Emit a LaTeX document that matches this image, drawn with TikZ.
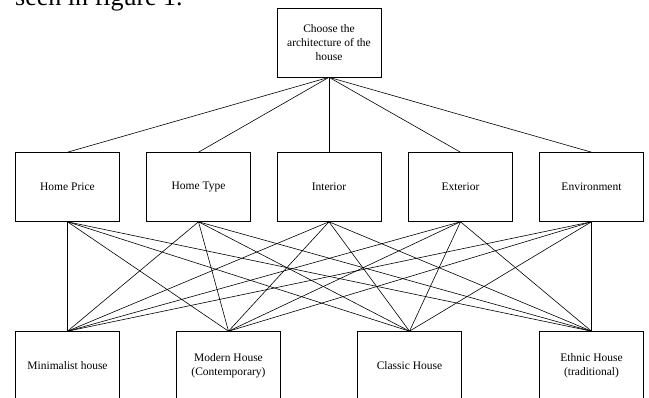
\documentclass[tikz,border=0pt]{standalone}
\usepackage{fontspec}
\setmainfont{Liberation Serif}
\begin{document}
\begin{tikzpicture}[x=1pt,y=-1pt,
  box/.style={draw, line width=0.6pt, minimum width=104pt, minimum height=69pt,
    inner sep=2pt, align=center, font=\fontsize{11.5}{14}\selectfont},
  link/.style={line width=0.6pt}]
\useasboundingbox (0,0) rectangle (649,398);
\clip (0,0) rectangle (649,398);
\node[anchor=base west, font=\fontsize{26}{30}\selectfont, inner sep=0pt] (cap) at (15,6) {seen in figure 1.};
\node[box] (top) at (329,42.5) {Choose the\\architecture of the\\house};
\node[box] (m1) at (67.5,187) {Home Price};
\node[box] (m2) at (198.5,187) {Home Type};
\node[box] (m3) at (329,187) {Interior};
\node[box] (m4) at (460.5,187) {Exterior};
\node[box] (m5) at (591.5,187) {Environment};
\node[box] (b1) at (67.5,366) {Minimalist house};
\node[box] (b2) at (228.5,366) {Modern House\\(Contemporary)};
\node[box] (b3) at (409.5,366) {Classic House};
\node[box] (b4) at (591.5,366) {Ethnic House\\(traditional)};
\foreach \m in {m1,m2,m3,m4,m5} {
  \draw[link] (top.south) -- (\m.north);
  \foreach \b in {b1,b2,b3,b4} \draw[link] (\m.south) -- (\b.north);
}
\end{tikzpicture}
\end{document}
